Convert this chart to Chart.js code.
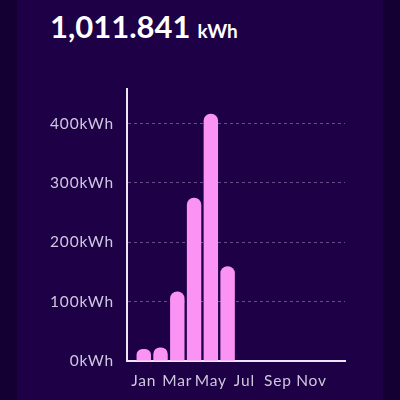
<!DOCTYPE html>
<html>
<head>
<meta charset="utf-8">
<script src="https://cdn.jsdelivr.net/npm/chart.js@4/dist/chart.umd.min.js"></script>
<style>
  html, body { margin: 0; padding: 0; width: 400px; height: 400px; overflow: hidden; background: #140033; }
  #panel { position: absolute; left: 17px; top: 0; width: 366px; height: 400px; background: #1e0046; }
  #total { position: absolute; left: 50px; top: 7px; color: #ffffff; font-family: Lato, sans-serif; font-weight: 700; white-space: nowrap; }
  #total .num { font-size: 31px; }
  #total .unit { font-size: 19px; margin-left: 7px; }
  #wrap { position: absolute; left: 0; top: 0; width: 400px; height: 400px; }
</style>
</head>
<body>
<div id="panel"></div>
<div id="total"><span class="num">1,011.841</span><span class="unit">kWh</span></div>
<div id="wrap"><canvas id="c"></canvas></div>
<script>
const months = ['Jan','Feb','Mar','Apr','May','Jun','Jul','Aug','Sep','Oct','Nov','Dec'];
const energyKWh = [20.3, 22.9, 117.2, 275.1, 416.6, 159.7, null, null, null, null, null, null];
const yTicks = [0, 100, 200, 300, 400];
const unit = 'kWh';

const yMax = Math.max(...energyKWh.filter(v => v !== null)) * 1.1;
const axisColor = '#ece6f5';
const labelColor = '#cfc7de';
const font = { family: 'Lato, sans-serif', size: 15.5, weight: 400 };

const spacing = {
  id: 'spacing',
  beforeLayout(chart) { chart.ctx.letterSpacing = '0.8px'; },
  beforeDraw(chart) { chart.ctx.letterSpacing = '0.8px'; }
};

new Chart(document.getElementById('c'), {
  type: 'bar',
  data: {
    datasets: [{
      data: energyKWh.map((v, i) => ({ x: i, y: v })),
      backgroundColor: '#fb93f5',
      borderRadius: 7,
      borderSkipped: 'start',
      barPercentage: 0.86,
      categoryPercentage: 1
    }]
  },
  plugins: [spacing],
  options: {
    responsive: true,
    maintainAspectRatio: false,
    animation: false,
    layout: { padding: { left: 0, top: 89, right: 55, bottom: 0 } },
    plugins: { legend: { display: false }, tooltip: { enabled: false } },
    scales: {
      x: {
        type: 'linear',
        min: -1,
        max: 12,
        offset: false,
        grid: { display: false, offset: false, drawTicks: false },
        border: { display: true, color: axisColor, width: 2 },
        afterFit: s => { s.height = 39; },
        afterBuildTicks: s => { s.ticks = months.map((m, i) => ({ value: i })).filter(t => t.value % 2 === 0); },
        ticks: {
          autoSkip: false,
          maxRotation: 0,
          color: labelColor,
          font: font,
          padding: 11,
          callback: v => months[v] ?? ''
        }
      },
      y: {
        min: 0,
        max: yMax,
        afterFit: s => { s.width = 127; },
        afterBuildTicks: s => { s.ticks = yTicks.map(v => ({ value: v })); },
        grid: { color: 'rgba(190,175,220,0.45)', lineWidth: 1, drawTicks: false },
        border: { display: true, color: axisColor, width: 2, dash: [3, 3] },
        ticks: {
          color: labelColor,
          font: font,
          padding: 13,
          callback: v => v + unit
        }
      }
    }
  }
});
</script>
</body>
</html>
